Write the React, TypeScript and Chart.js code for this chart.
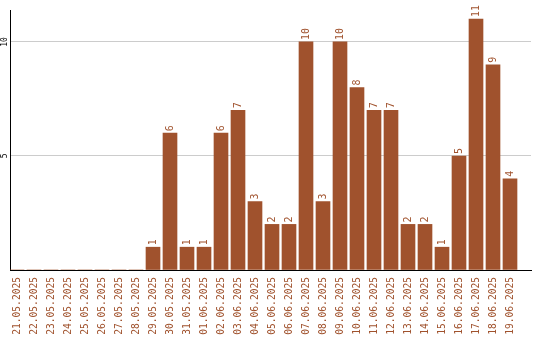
import React, { useEffect, useRef } from "react";
import { Chart, registerables } from "chart.js";

Chart.register(...registerables);

const dates = [
  "21.05.2025", "22.05.2025", "23.05.2025", "24.05.2025", "25.05.2025",
  "26.05.2025", "27.05.2025", "28.05.2025", "29.05.2025", "30.05.2025",
  "31.05.2025", "01.06.2025", "02.06.2025", "03.06.2025", "04.06.2025",
  "05.06.2025", "06.06.2025", "07.06.2025", "08.06.2025", "09.06.2025",
  "10.06.2025", "11.06.2025", "12.06.2025", "13.06.2025", "14.06.2025",
  "15.06.2025", "16.06.2025", "17.06.2025", "18.06.2025", "19.06.2025",
];
const counts = [0, 0, 0, 0, 0, 0, 0, 0, 1, 6, 1, 1, 6, 7, 3, 2, 2, 10, 3, 10, 8, 7, 7, 2, 2, 1, 5, 11, 9, 4];
const yTickValues = [5, 10];

const BAR = "#a0522d";
const MONO = "'DejaVu Sans Mono', monospace";

const labelsPlugin = {
  id: "labels",
  afterDatasetsDraw(chart: any) {
    const ctx = chart.ctx;
    const meta = chart.getDatasetMeta(0);
    ctx.save();
    ctx.fillStyle = BAR;
    ctx.font = `10px ${MONO}`;
    ctx.textAlign = "left";
    ctx.textBaseline = "middle";
    meta.data.forEach((el: any, i: number) => {
      const v = counts[i];
      if (!v) return;
      ctx.save();
      ctx.translate(el.x, el.y - 2);
      ctx.rotate(-Math.PI / 2);
      ctx.fillText(String(v), 0, 0);
      ctx.restore();
    });
    const ys = chart.scales.y;
    ctx.fillStyle = "#000";
    ctx.font = `8px ${MONO}`;
    ctx.textAlign = "center";
    yTickValues.forEach((v) => {
      const py = ys.getPixelForValue(v);
      ctx.save();
      ctx.translate(5, py);
      ctx.rotate(-Math.PI / 2);
      ctx.fillText(String(v), 0, 0);
      ctx.restore();
    });
    ctx.restore();
  },
};

export default function App() {
  const ref = useRef<HTMLCanvasElement>(null);
  useEffect(() => {
    if (!ref.current) return;
    const chart = new Chart(ref.current, {
      type: "bar",
      data: {
        datasets: [
          {
            data: counts.map((c, i) => ({ x: i, y: c })),
            backgroundColor: BAR,
            borderWidth: 0,
            barThickness: 14,
          },
        ],
      },
      options: {
        animation: false,
        responsive: false,
        layout: { padding: { left: 10, top: 10, right: 9, bottom: 0 } },
        plugins: { legend: { display: false }, tooltip: { enabled: false } },
        scales: {
          x: {
            type: "linear",
            offset: false,
            min: -7 / 17,
            max: 521 / 17 - 7 / 17,
            grid: { display: false, drawTicks: false, offset: false },
            border: { display: true, color: "#000", width: 1 },
            afterFit: (scale: any) => {
              scale.height = 70;
              scale.paddingLeft = 0;
              scale.paddingRight = 0;
            },
            ticks: {
              stepSize: 1,
              autoSkip: false,
              includeBounds: false,
              maxTicksLimit: 100,
              minRotation: 90,
              maxRotation: 90,
              padding: 7,
              color: BAR,
              font: { family: MONO, size: 9.6 },
              callback: (v: any) => (Number.isInteger(v) && dates[v] ? dates[v] : ""),
            },
          },
          y: {
            type: "linear",
            min: 0,
            max: 11.4,
            grid: { color: "#cccccc", drawTicks: false },
            border: { display: true, color: "#000", width: 1 },
            afterFit: (scale: any) => {
              scale.width = 0;
              scale.paddingTop = 0;
              scale.paddingBottom = 0;
            },
            ticks: { display: false, stepSize: 5, includeBounds: false },
          },
        },
      },
      plugins: [labelsPlugin],
    } as any);
    return () => chart.destroy();
  }, []);
  return (
    <div style={{ position: "absolute", left: 0, top: 0, width: 540, height: 340, background: "#fff" }}>
      <canvas ref={ref} width={540} height={340} />
    </div>
  );
}
